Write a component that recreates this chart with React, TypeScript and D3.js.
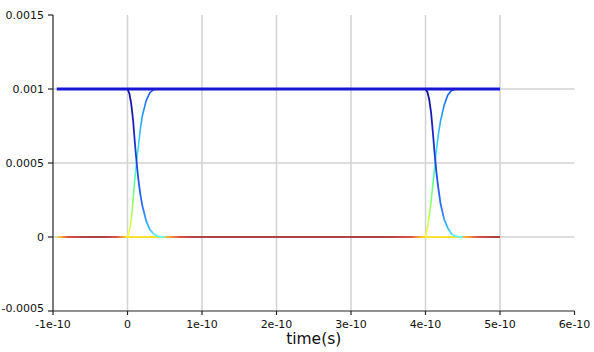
import React from "react";
import * as d3 from "d3";

// ---- data ----
const xTicks = [-1e-10, 0, 1e-10, 2e-10, 3e-10, 4e-10, 5e-10, 6e-10];
const xTickLabels = ["-1e-10", "0", "1e-10", "2e-10", "3e-10", "4e-10", "5e-10", "6e-10"];
const yTicks = [-0.0005, 0, 0.0005, 0.001, 0.0015];
const yTickLabels = ["-0.0005", "0", "0.0005", "0.001", "0.0015"];
const xGrid = [0, 1e-10, 2e-10, 3e-10, 4e-10, 5e-10];
const yGrid = [0, 0.0005, 0.001];

const dataStart = -0.95e-10;
const dataEnd = 5e-10;
const highLevel = 0.001;
const lowLevel = 0;
const edgeTimes = [0, 4e-10];

const edgeOffsets = [0, 2.5e-12, 5e-12, 7.5e-12, 1e-11, 1.25e-11, 1.5e-11, 1.75e-11, 2e-11, 2.5e-11, 3e-11, 3.5e-11, 4e-11, 4.5e-11, 5e-11];
const fallingEdge1 = [0.001, 0.00097, 0.0009, 0.00079, 0.00063, 0.00049, 0.00037, 0.00028, 0.00021, 0.00011, 0.00005, 0.00002, 0.000006, 0.000001, 0];
const risingEdge1 = [0, 0.00004, 0.00011, 0.00025, 0.0004, 0.00052, 0.00063, 0.00074, 0.00082, 0.00092, 0.000975, 0.000995, 0.001, 0.001, 0.001];
const fallingEdge2 = [0.001, 0.00098, 0.00093, 0.00084, 0.0007, 0.00055, 0.00042, 0.00032, 0.00023, 0.00012, 0.00006, 0.00002, 0.000006, 0.000001, 0];
const risingEdge2 = [0, 0.00006, 0.00014, 0.00024, 0.00036, 0.00048, 0.0006, 0.0007, 0.00078, 0.00089, 0.00096, 0.00099, 0.001, 0.001, 0.001];

// baseline colour stops (time, colour)
const baseStopTimes = [-0.95e-10, -0.9e-10, -0.8e-10, -0.6e-10, -0.3e-10, -0.15e-10, -0.05e-10, 0, 0.4e-10, 0.55e-10, 0.7e-10, 0.9e-10, 3.5e-10, 3.8e-10, 3.92e-10, 4e-10, 4.4e-10, 4.55e-10, 4.7e-10, 4.9e-10, 5e-10];
const baseStopColors = ["#c8e838", "#ffb000", "#e02010", "#a01010", "#a01010", "#e02010", "#ffa000", "#ffe000", "#ffe000", "#ffa000", "#e02010", "#a01010", "#a01010", "#e02010", "#ffa000", "#ffe000", "#ffe000", "#ffa000", "#e02010", "#a01010", "#a01010"];

const fallStopVals = [0, 0.05, 0.2, 0.5, 0.8, 1];
const fallStopColors = ["#60ffff", "#40c0ff", "#2a70ff", "#2040e0", "#1a1ab8", "#10109a"];
const riseStopVals = [0, 0.15, 0.35, 0.5, 0.65, 0.85, 1];
const riseStopColors = ["#ffff30", "#b0ff50", "#60ff90", "#40ffd0", "#30d0ff", "#2090ff", "#1a50f0"];

const W = 594;
const H = 352;
const left = 53;
const right = 574.5;
const top = 15;
const bottom = 311;

export default function App() {
  const x = d3.scaleLinear().domain([-1e-10, 6e-10]).range([left, right]);
  const y = d3.scaleLinear().domain([-0.0005, 0.0015]).range([bottom, top]);
  const line = d3
    .line<[number, number]>()
    .x((d) => x(d[0]))
    .y((d) => y(d[1]));

  const edgePath = (t0: number, vals: number[]) =>
    line(edgeOffsets.map((o, i) => [t0 + o, vals[i]] as [number, number])) || "";

  const font = "'DejaVu Sans', Verdana, sans-serif";

  return (
    <svg width={W} height={H} style={{ position: "absolute", left: 0, top: 0, background: "#fff" }}>
      <defs>
        <linearGradient id="baseGrad" gradientUnits="userSpaceOnUse" x1={x(dataStart)} y1={0} x2={x(dataEnd)} y2={0}>
          {baseStopTimes.map((t, i) => (
            <stop key={i} offset={(t - dataStart) / (dataEnd - dataStart)} stopColor={baseStopColors[i]} />
          ))}
        </linearGradient>
        <linearGradient id="fallGrad" gradientUnits="userSpaceOnUse" x1={0} y1={y(lowLevel)} x2={0} y2={y(highLevel)}>
          {fallStopVals.map((v, i) => (
            <stop key={i} offset={v} stopColor={fallStopColors[i]} />
          ))}
        </linearGradient>
        <linearGradient id="riseGrad" gradientUnits="userSpaceOnUse" x1={0} y1={y(lowLevel)} x2={0} y2={y(highLevel)}>
          {riseStopVals.map((v, i) => (
            <stop key={i} offset={v} stopColor={riseStopColors[i]} />
          ))}
        </linearGradient>
      </defs>

      {/* grid */}
      {xGrid.map((t) => (
        <line key={"gx" + t} x1={x(t)} x2={x(t)} y1={top} y2={bottom} stroke="#d2d2d2" strokeWidth={1.5} />
      ))}
      {yGrid.map((v) => (
        <line key={"gy" + v} x1={left} x2={right} y1={y(v)} y2={y(v)} stroke="#d2d2d2" strokeWidth={1.5} />
      ))}

      {/* baseline */}
      <path
        d={line([[dataStart, lowLevel], [dataEnd, lowLevel]]) || ""}
        stroke="url(#baseGrad)"
        strokeWidth={1.6}
        fill="none"
      />

      {/* edges */}
      <path d={edgePath(edgeTimes[0], risingEdge1)} stroke="url(#riseGrad)" strokeWidth={1.6} fill="none" />
      <path d={edgePath(edgeTimes[1], risingEdge2)} stroke="url(#riseGrad)" strokeWidth={1.6} fill="none" />
      <path d={edgePath(edgeTimes[0], fallingEdge1)} stroke="url(#fallGrad)" strokeWidth={1.8} fill="none" />
      <path d={edgePath(edgeTimes[1], fallingEdge2)} stroke="url(#fallGrad)" strokeWidth={1.8} fill="none" />

      {/* high level */}
      <path
        d={line([[dataStart, highLevel], [dataEnd, highLevel]]) || ""}
        stroke="#1616d4"
        strokeWidth={3}
        fill="none"
      />

      {/* axes */}
      <line x1={left} x2={left} y1={top} y2={bottom} stroke="#222" strokeWidth={1.2} />
      <line x1={left} x2={right} y1={bottom} y2={bottom} stroke="#222" strokeWidth={1.2} />
      {yTicks.map((v, i) => (
        <g key={"yt" + v}>
          <line x1={left - 5} x2={left} y1={y(v)} y2={y(v)} stroke="#222" strokeWidth={1.2} />
          <text
            x={left - 9}
            y={Math.min(y(v), 308)}
            dy="0.35em"
            textAnchor="end"
            fontFamily={font}
            fontSize={11}
            fill="#111"
          >
            {yTickLabels[i]}
          </text>
        </g>
      ))}
      {xTicks.map((t, i) => (
        <g key={"xt" + t}>
          <line x1={x(t)} x2={x(t)} y1={bottom} y2={bottom + 4} stroke="#222" strokeWidth={1.2} />
          <text x={x(t)} y={327.5} textAnchor="middle" fontFamily={font} fontSize={11} fill="#111">
            {xTickLabels[i]}
          </text>
        </g>
      ))}
      <text x={(left + right) / 2} y={344} textAnchor="middle" fontFamily={font} fontSize={15.5} fill="#111">
        time(s)
      </text>
    </svg>
  );
}
